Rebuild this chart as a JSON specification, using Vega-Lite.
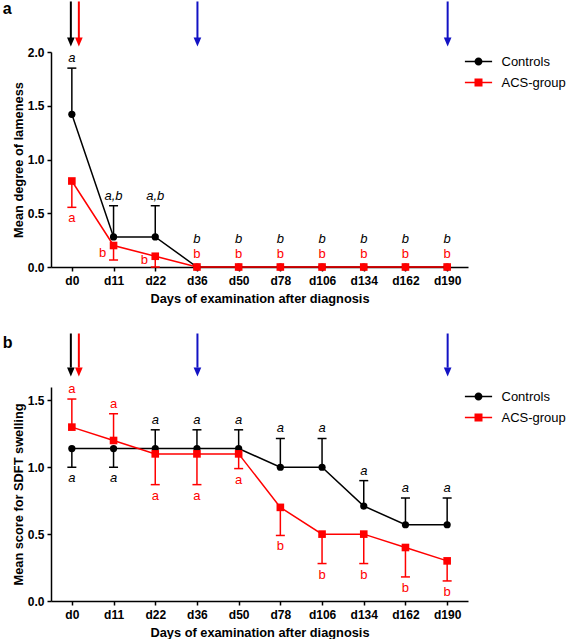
{
  "$schema": "https://vega.github.io/schema/vega-lite/v6.json",
  "padding": {"left": 2, "top": 0, "right": 0, "bottom": 0},
  "spacing": 27,
  "datasets": {
    "lame": [
      {"day": "d0", "group": "Controls", "mean": 1.42, "err": 1.85, "letter": "a"},
      {"day": "d11", "group": "Controls", "mean": 0.28, "err": 0.57, "letter": "a,b"},
      {"day": "d22", "group": "Controls", "mean": 0.28, "err": 0.57, "letter": "a,b"},
      {"day": "d36", "group": "Controls", "mean": 0, "err": 0, "letter": "b"},
      {"day": "d50", "group": "Controls", "mean": 0, "err": 0, "letter": "b"},
      {"day": "d78", "group": "Controls", "mean": 0, "err": 0, "letter": "b"},
      {"day": "d106", "group": "Controls", "mean": 0, "err": 0, "letter": "b"},
      {"day": "d134", "group": "Controls", "mean": 0, "err": 0, "letter": "b"},
      {"day": "d162", "group": "Controls", "mean": 0, "err": 0, "letter": "b"},
      {"day": "d190", "group": "Controls", "mean": 0, "err": 0, "letter": "b"},
      {"day": "d0", "group": "ACS-group", "mean": 0.80, "err": 0.555, "letter": "a"},
      {"day": "d11", "group": "ACS-group", "mean": 0.20, "err": 0.065, "letter": "b"},
      {"day": "d22", "group": "ACS-group", "mean": 0.10, "err": 0.0, "letter": "b"},
      {"day": "d36", "group": "ACS-group", "mean": 0, "err": 0, "letter": "b"},
      {"day": "d50", "group": "ACS-group", "mean": 0, "err": 0, "letter": "b"},
      {"day": "d78", "group": "ACS-group", "mean": 0, "err": 0, "letter": "b"},
      {"day": "d106", "group": "ACS-group", "mean": 0, "err": 0, "letter": "b"},
      {"day": "d134", "group": "ACS-group", "mean": 0, "err": 0, "letter": "b"},
      {"day": "d162", "group": "ACS-group", "mean": 0, "err": 0, "letter": "b"},
      {"day": "d190", "group": "ACS-group", "mean": 0, "err": 0, "letter": "b"}
    ],
    "sdft": [
      {"day": "d0", "group": "Controls", "mean": 1.14, "err": 1.0, "letter": "a"},
      {"day": "d11", "group": "Controls", "mean": 1.14, "err": 1.0, "letter": "a"},
      {"day": "d22", "group": "Controls", "mean": 1.14, "err": 1.28, "letter": "a"},
      {"day": "d36", "group": "Controls", "mean": 1.14, "err": 1.28, "letter": "a"},
      {"day": "d50", "group": "Controls", "mean": 1.14, "err": 1.28, "letter": "a"},
      {"day": "d78", "group": "Controls", "mean": 1.0, "err": 1.215, "letter": "a"},
      {"day": "d106", "group": "Controls", "mean": 1.0, "err": 1.215, "letter": "a"},
      {"day": "d134", "group": "Controls", "mean": 0.71, "err": 0.90, "letter": "a"},
      {"day": "d162", "group": "Controls", "mean": 0.57, "err": 0.77, "letter": "a"},
      {"day": "d190", "group": "Controls", "mean": 0.57, "err": 0.77, "letter": "a"},
      {"day": "d0", "group": "ACS-group", "mean": 1.30, "err": 1.51, "letter": "a"},
      {"day": "d11", "group": "ACS-group", "mean": 1.20, "err": 1.40, "letter": "a"},
      {"day": "d22", "group": "ACS-group", "mean": 1.10, "err": 0.87, "letter": "a"},
      {"day": "d36", "group": "ACS-group", "mean": 1.10, "err": 0.87, "letter": "a"},
      {"day": "d50", "group": "ACS-group", "mean": 1.10, "err": 0.99, "letter": "a"},
      {"day": "d78", "group": "ACS-group", "mean": 0.70, "err": 0.49, "letter": "b"},
      {"day": "d106", "group": "ACS-group", "mean": 0.50, "err": 0.28, "letter": "b"},
      {"day": "d134", "group": "ACS-group", "mean": 0.50, "err": 0.28, "letter": "b"},
      {"day": "d162", "group": "ACS-group", "mean": 0.40, "err": 0.18, "letter": "b"},
      {"day": "d190", "group": "ACS-group", "mean": 0.30, "err": 0.15, "letter": "b"}
    ],
    "arrows": [
      {"day": "d0", "arrow": "black"},
      {"day": "d0", "arrow": "red"},
      {"day": "d36", "arrow": "blue"},
      {"day": "d190", "arrow": "blue"}
    ]
  },
  "config": {
    "view": {"stroke": null},
    "font": "Liberation Sans",
    "axis": {
      "domainColor": "black", "domainWidth": 1.5, "tickColor": "black", "tickWidth": 1.5, "tickSize": 4,
      "labelFont": "Liberation Sans", "labelFontWeight": "bold", "labelFontSize": 12, "labelColor": "black",
      "titleFont": "Liberation Sans", "titleFontWeight": "bold", "titleFontSize": 12.8, "titleColor": "black",
      "grid": false
    },
    "legend": {
      "title": null, "orient": "right", "offset": 0.5, "padding": 1.5, "symbolSize": 256, "rowPadding": 6,
      "symbolOpacity": 1, "symbolStrokeWidth": 0,
      "labelFont": "Liberation Sans", "labelFontSize": 13, "labelColor": "black", "labelOffset": 15, "labelLimit": 200
    }
  },
  "resolve": {"scale": {"fill": "independent", "shape": "independent", "y": "independent", "x": "independent"}, "legend": {"fill": "independent", "shape": "independent"}},
  "vconcat": [
    {
      "width": 417, "height": 215,
      "encoding": {
        "x": {"field": "day", "type": "ordinal",
          "scale": {"type": "point", "padding": 0.5, "domain": ["d0","d11","d22","d36","d50","d78","d106","d134","d162","d190"]},
          "axis": {"title": "Days of examination after diagnosis", "labelAngle": 0, "labelPadding": 4, "titlePadding": 6}}
      },
      "layer": [
        {"data": {"name": "lame"}, "transform": [{"filter": "datum.group == 'Controls'"}],
         "mark": {"type": "line", "strokeWidth": 1.5, "color": "black", "clip": false},
         "encoding": {
           "y": {"field": "mean", "type": "quantitative", "scale": {"domain": [0, 2], "nice": false}, "axis": {"title": "Mean degree of lameness", "values": [0, 0.5, 1, 1.5, 2], "format": ".1f", "labelPadding": 3, "titlePadding": 2}}
         }},
        {"data": {"name": "lame"}, "transform": [{"filter": "datum.group == 'Controls' && datum.err != datum.mean"}],
         "mark": {"type": "rule", "strokeWidth": 1.5, "color": "black"},
         "encoding": {"y": {"field": "mean", "type": "quantitative"}, "y2": {"field": "err"}}},
        {"data": {"name": "lame"}, "transform": [{"filter": "datum.group == 'Controls' && datum.err != datum.mean"}],
         "mark": {"type": "tick", "size": 9, "thickness": 1.5, "orient": "horizontal", "opacity": 1, "color": "black"},
         "encoding": {"y": {"field": "err", "type": "quantitative"}}},
        {"data": {"name": "lame"}, "transform": [{"filter": "datum.group == 'ACS-group'"}],
         "mark": {"type": "line", "strokeWidth": 1.5, "color": "#ff0000", "clip": false},
         "encoding": {"y": {"field": "mean", "type": "quantitative"}}},
        {"data": {"name": "lame"}, "transform": [{"filter": "datum.group == 'ACS-group' && datum.err != datum.mean"}],
         "mark": {"type": "rule", "strokeWidth": 1.5, "color": "#ff0000"},
         "encoding": {"y": {"field": "mean", "type": "quantitative"}, "y2": {"field": "err"}}},
        {"data": {"name": "lame"}, "transform": [{"filter": "datum.group == 'ACS-group' && datum.err != datum.mean"}],
         "mark": {"type": "tick", "size": 9, "thickness": 1.5, "orient": "horizontal", "opacity": 1, "color": "#ff0000"},
         "encoding": {"y": {"field": "err", "type": "quantitative"}}},
        {"data": {"name": "lame"}, "transform": [{"filter": "datum.group == 'Controls'"}],
         "mark": {"type": "point", "shape": "circle", "filled": true, "opacity": 1, "size": 52, "color": "black", "clip": false},
         "encoding": {"y": {"field": "mean", "type": "quantitative"}}},
        {"data": {"name": "lame"}, "transform": [{"filter": "datum.group == 'ACS-group'"}],
         "mark": {"type": "point", "shape": "square", "filled": true, "opacity": 1, "size": 58, "color": "#ff0000", "clip": false},
         "encoding": {"y": {"field": "mean", "type": "quantitative"}}},
        {"data": {"name": "lame"}, "transform": [{"filter": "false"}],
         "mark": {"type": "point", "filled": true},
         "encoding": {"y": {"field": "mean", "type": "quantitative"},
           "fill": {"field": "group", "type": "nominal", "scale": {"domain": ["Controls", "ACS-group"], "range": ["black", "#ff0000"]}},
           "shape": {"field": "group", "type": "nominal", "scale": {"domain": ["Controls", "ACS-group"], "range": ["M-1.7,-0.09H1.7V0.09H-1.7Z M-0.5,0A0.5,0.5 0 1 1 0.5,0A0.5,0.5 0 1 1 -0.5,0Z", "M-1.7,-0.09H1.7V0.09H-1.7Z M-0.5,-0.5H0.5V0.5H-0.5Z"]}}}},
        {"data": {"name": "lame"}, "transform": [{"filter": "datum.group == 'Controls' && datum.err > datum.mean"}],
         "mark": {"type": "text", "fontStyle": "italic", "fontSize": 13, "baseline": "alphabetic", "dy": -6, "color": "black"},
         "encoding": {"y": {"field": "err", "type": "quantitative"}, "text": {"field": "letter"}}},
        {"data": {"name": "lame"}, "transform": [{"filter": "datum.group == 'Controls' && datum.mean == 0"}],
         "mark": {"type": "text", "fontStyle": "italic", "fontSize": 13, "baseline": "alphabetic", "dy": -24.5, "color": "black"},
         "encoding": {"y": {"field": "mean", "type": "quantitative"}, "text": {"field": "letter"}}},
        {"data": {"name": "lame"}, "transform": [{"filter": "datum.group == 'ACS-group' && datum.day == 'd0'"}],
         "mark": {"type": "text", "fontSize": 13, "baseline": "alphabetic", "dy": 14.5, "color": "#ff0000"},
         "encoding": {"y": {"field": "err", "type": "quantitative"}, "text": {"field": "letter"}}},
        {"data": {"name": "lame"}, "transform": [{"filter": "datum.group == 'ACS-group' && (datum.day == 'd11' || datum.day == 'd22')"}],
         "mark": {"type": "text", "fontSize": 13, "baseline": "alphabetic", "dy": -3, "dx": -11, "color": "#ff0000"},
         "encoding": {"y": {"field": "err", "type": "quantitative"}, "text": {"field": "letter"}}},
        {"data": {"name": "lame"}, "transform": [{"filter": "datum.group == 'ACS-group' && datum.mean == 0"}],
         "mark": {"type": "text", "fontSize": 13, "baseline": "alphabetic", "dy": -9.5, "color": "#ff0000"},
         "encoding": {"y": {"field": "mean", "type": "quantitative"}, "text": {"field": "letter"}}},
        {"data": {"name": "arrows"}, "transform": [{"filter": "datum.arrow == 'black'"}],
         "mark": {"type": "rule", "strokeWidth": 2, "xOffset": -1, "color": "black", "clip": false},
         "encoding": {"y": {"datum": 2.47}, "y2": {"datum": 2.12}}},
        {"data": {"name": "arrows"}, "transform": [{"filter": "datum.arrow == 'black'"}],
         "mark": {"type": "point", "shape": "M-0.85,-1L0.85,-1L0,1Z", "size": 81, "filled": true, "opacity": 1, "xOffset": -1, "color": "black", "clip": false},
         "encoding": {"y": {"datum": 2.093}}},
        {"data": {"name": "arrows"}, "transform": [{"filter": "datum.arrow == 'red'"}],
         "mark": {"type": "rule", "strokeWidth": 2, "xOffset": 7, "color": "#ff0000", "clip": false},
         "encoding": {"y": {"datum": 2.47}, "y2": {"datum": 2.12}}},
        {"data": {"name": "arrows"}, "transform": [{"filter": "datum.arrow == 'red'"}],
         "mark": {"type": "point", "shape": "M-0.85,-1L0.85,-1L0,1Z", "size": 81, "filled": true, "opacity": 1, "xOffset": 7, "color": "#ff0000", "clip": false},
         "encoding": {"y": {"datum": 2.093}}},
        {"data": {"name": "arrows"}, "transform": [{"filter": "datum.arrow == 'blue'"}],
         "mark": {"type": "rule", "strokeWidth": 2, "xOffset": 0.5, "color": "#1212c4", "clip": false},
         "encoding": {"y": {"datum": 2.47}, "y2": {"datum": 2.12}}},
        {"data": {"name": "arrows"}, "transform": [{"filter": "datum.arrow == 'blue'"}],
         "mark": {"type": "point", "shape": "M-0.85,-1L0.85,-1L0,1Z", "size": 81, "filled": true, "opacity": 1, "xOffset": 0.5, "color": "#1212c4", "clip": false},
         "encoding": {"y": {"datum": 2.093}}},
        {"data": {"values": [{"day": "d0", "panel": "a"}]},
         "mark": {"type": "text", "fontSize": 16, "fontWeight": "bold", "align": "left", "baseline": "alphabetic", "dx": -69, "color": "black", "clip": false},
         "encoding": {"y": {"datum": 2.35}, "text": {"field": "panel"}}}
      ]
    },
    {
      "width": 417, "height": 214,
      "encoding": {
        "x": {"field": "day", "type": "ordinal",
          "scale": {"type": "point", "padding": 0.5, "domain": ["d0","d11","d22","d36","d50","d78","d106","d134","d162","d190"]},
          "axis": {"title": "Days of examination after diagnosis", "labelAngle": 0, "labelPadding": 4, "titlePadding": 6}}
      },
      "layer": [
        {"data": {"name": "sdft"}, "transform": [{"filter": "datum.group == 'Controls'"}],
         "mark": {"type": "line", "strokeWidth": 1.5, "color": "black", "clip": false},
         "encoding": {
           "y": {"field": "mean", "type": "quantitative", "scale": {"domain": [0, 1.6], "nice": false}, "axis": {"title": "Mean score for SDFT swelling", "values": [0, 0.5, 1, 1.5], "format": ".1f", "labelPadding": 3, "titlePadding": 2}}
         }},
        {"data": {"name": "sdft"}, "transform": [{"filter": "datum.group == 'Controls' && datum.err != datum.mean"}],
         "mark": {"type": "rule", "strokeWidth": 1.5, "color": "black"},
         "encoding": {"y": {"field": "mean", "type": "quantitative"}, "y2": {"field": "err"}}},
        {"data": {"name": "sdft"}, "transform": [{"filter": "datum.group == 'Controls' && datum.err != datum.mean"}],
         "mark": {"type": "tick", "size": 9, "thickness": 1.5, "orient": "horizontal", "opacity": 1, "color": "black"},
         "encoding": {"y": {"field": "err", "type": "quantitative"}}},
        {"data": {"name": "sdft"}, "transform": [{"filter": "datum.group == 'ACS-group'"}],
         "mark": {"type": "line", "strokeWidth": 1.5, "color": "#ff0000", "clip": false},
         "encoding": {"y": {"field": "mean", "type": "quantitative"}}},
        {"data": {"name": "sdft"}, "transform": [{"filter": "datum.group == 'ACS-group' && datum.err != datum.mean"}],
         "mark": {"type": "rule", "strokeWidth": 1.5, "color": "#ff0000"},
         "encoding": {"y": {"field": "mean", "type": "quantitative"}, "y2": {"field": "err"}}},
        {"data": {"name": "sdft"}, "transform": [{"filter": "datum.group == 'ACS-group' && datum.err != datum.mean"}],
         "mark": {"type": "tick", "size": 9, "thickness": 1.5, "orient": "horizontal", "opacity": 1, "color": "#ff0000"},
         "encoding": {"y": {"field": "err", "type": "quantitative"}}},
        {"data": {"name": "sdft"}, "transform": [{"filter": "datum.group == 'Controls'"}],
         "mark": {"type": "point", "shape": "circle", "filled": true, "opacity": 1, "size": 52, "color": "black", "clip": false},
         "encoding": {"y": {"field": "mean", "type": "quantitative"}}},
        {"data": {"name": "sdft"}, "transform": [{"filter": "datum.group == 'ACS-group'"}],
         "mark": {"type": "point", "shape": "square", "filled": true, "opacity": 1, "size": 58, "color": "#ff0000", "clip": false},
         "encoding": {"y": {"field": "mean", "type": "quantitative"}}},
        {"data": {"name": "sdft"}, "transform": [{"filter": "false"}],
         "mark": {"type": "point", "filled": true},
         "encoding": {"y": {"field": "mean", "type": "quantitative"},
           "fill": {"field": "group", "type": "nominal", "scale": {"domain": ["Controls", "ACS-group"], "range": ["black", "#ff0000"]}},
           "shape": {"field": "group", "type": "nominal", "scale": {"domain": ["Controls", "ACS-group"], "range": ["M-1.7,-0.09H1.7V0.09H-1.7Z M-0.5,0A0.5,0.5 0 1 1 0.5,0A0.5,0.5 0 1 1 -0.5,0Z", "M-1.7,-0.09H1.7V0.09H-1.7Z M-0.5,-0.5H0.5V0.5H-0.5Z"]}}}},
        {"data": {"name": "sdft"}, "transform": [{"filter": "datum.group == 'Controls' && datum.err > datum.mean"}],
         "mark": {"type": "text", "fontStyle": "italic", "fontSize": 13, "baseline": "alphabetic", "dy": -6, "color": "black"},
         "encoding": {"y": {"field": "err", "type": "quantitative"}, "text": {"field": "letter"}}},
        {"data": {"name": "sdft"}, "transform": [{"filter": "datum.group == 'Controls' && datum.err < datum.mean"}],
         "mark": {"type": "text", "fontStyle": "italic", "fontSize": 13, "baseline": "alphabetic", "dy": 15, "color": "black"},
         "encoding": {"y": {"field": "err", "type": "quantitative"}, "text": {"field": "letter"}}},
        {"data": {"name": "sdft"}, "transform": [{"filter": "datum.group == 'ACS-group' && datum.err > datum.mean"}],
         "mark": {"type": "text", "fontSize": 13, "baseline": "alphabetic", "dy": -6, "color": "#ff0000"},
         "encoding": {"y": {"field": "err", "type": "quantitative"}, "text": {"field": "letter"}}},
        {"data": {"name": "sdft"}, "transform": [{"filter": "datum.group == 'ACS-group' && datum.err < datum.mean"}],
         "mark": {"type": "text", "fontSize": 13, "baseline": "alphabetic", "dy": 15, "color": "#ff0000"},
         "encoding": {"y": {"field": "err", "type": "quantitative"}, "text": {"field": "letter"}}},
        {"data": {"name": "arrows"}, "transform": [{"filter": "datum.arrow == 'black'"}],
         "mark": {"type": "rule", "strokeWidth": 2, "xOffset": -1, "color": "black", "clip": false},
         "encoding": {"y": {"datum": 2.0}, "y2": {"datum": 1.745}}},
        {"data": {"name": "arrows"}, "transform": [{"filter": "datum.arrow == 'black'"}],
         "mark": {"type": "point", "shape": "M-0.85,-1L0.85,-1L0,1Z", "size": 81, "filled": true, "opacity": 1, "xOffset": -1, "color": "black", "clip": false},
         "encoding": {"y": {"datum": 1.713}}},
        {"data": {"name": "arrows"}, "transform": [{"filter": "datum.arrow == 'red'"}],
         "mark": {"type": "rule", "strokeWidth": 2, "xOffset": 7, "color": "#ff0000", "clip": false},
         "encoding": {"y": {"datum": 2.0}, "y2": {"datum": 1.745}}},
        {"data": {"name": "arrows"}, "transform": [{"filter": "datum.arrow == 'red'"}],
         "mark": {"type": "point", "shape": "M-0.85,-1L0.85,-1L0,1Z", "size": 81, "filled": true, "opacity": 1, "xOffset": 7, "color": "#ff0000", "clip": false},
         "encoding": {"y": {"datum": 1.713}}},
        {"data": {"name": "arrows"}, "transform": [{"filter": "datum.arrow == 'blue'"}],
         "mark": {"type": "rule", "strokeWidth": 2, "xOffset": 0.5, "color": "#1212c4", "clip": false},
         "encoding": {"y": {"datum": 2.0}, "y2": {"datum": 1.745}}},
        {"data": {"name": "arrows"}, "transform": [{"filter": "datum.arrow == 'blue'"}],
         "mark": {"type": "point", "shape": "M-0.85,-1L0.85,-1L0,1Z", "size": 81, "filled": true, "opacity": 1, "xOffset": 0.5, "color": "#1212c4", "clip": false},
         "encoding": {"y": {"datum": 1.713}}},
        {"data": {"values": [{"day": "d0", "panel": "b"}]},
         "mark": {"type": "text", "fontSize": 16, "fontWeight": "bold", "align": "left", "baseline": "alphabetic", "dx": -69, "color": "black", "clip": false},
         "encoding": {"y": {"datum": 1.89}, "text": {"field": "panel"}}}
      ]
    }
  ]
}
